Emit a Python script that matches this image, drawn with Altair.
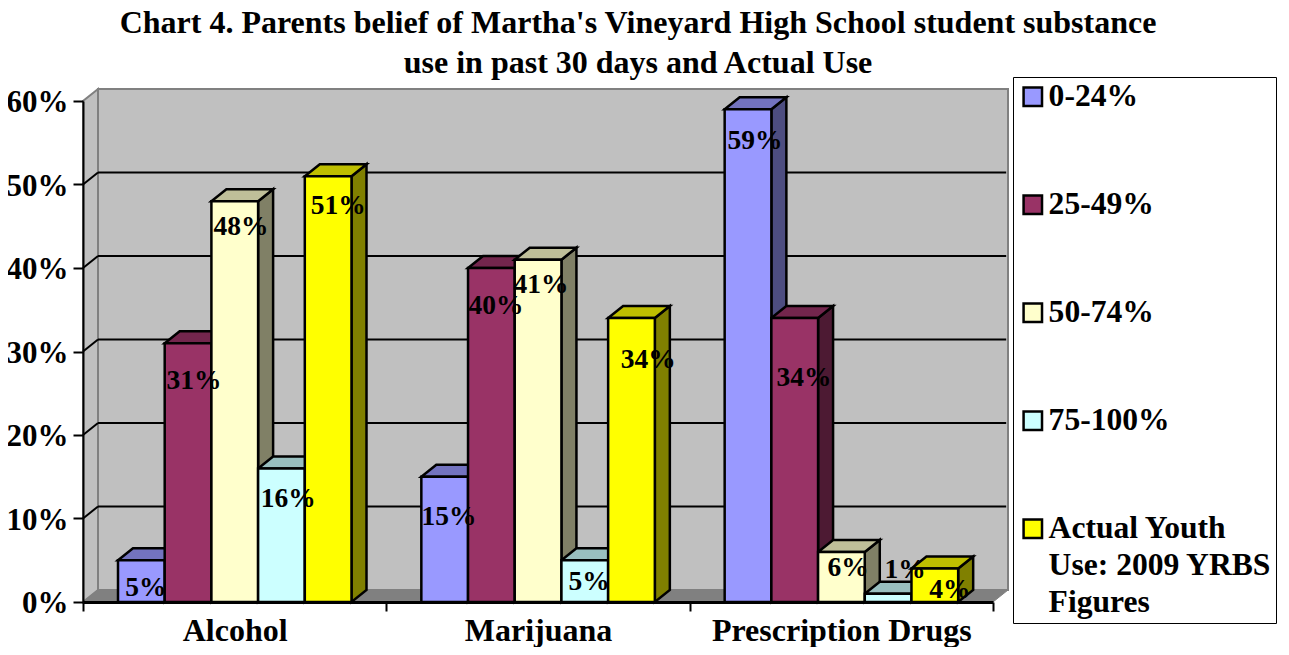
import altair as alt
import pandas as pd

categories = ["Alcohol", "Marijuana", "Prescription Drugs"]
series = ["0-24%", "25-49%", "50-74%", "75-100%", "Actual Youth Use: 2009 YRBS Figures"]
alcohol = [0.05, 0.31, 0.48, 0.16, 0.51]
marijuana = [0.15, 0.40, 0.41, 0.05, 0.34]
prescription = [0.59, 0.34, 0.06, 0.01, 0.04]
face_colors = ["#9999FF", "#993366", "#FFFFCC", "#CCFFFF", "#FFFF00"]
top_colors = ["#7373BF", "#73264D", "#BFBF99", "#99BFBF", "#BFBF00"]
side_colors = ["#4D4D80", "#4D1A33", "#808066", "#668080", "#808000"]
y_ticks = [0.0, 0.1, 0.2, 0.3, 0.4, 0.5, 0.6]
# where each value label sits (height on the y scale, sideways shift in fractions of a group)
label_heights = [[.017, .265, .449, .123, .474], [.102, .354, .380, .024, .290], [.552, .268, .041, .038, .014]]
label_shifts = [[.015, .020, .021, .022, .033], [.014, .015, .010, .014, .055], [.023, .031, .022, .056, .050]]

W, H = 910, 501
GX = 303.33
DX = 15 / GX          # depth of the 3-D projection, x units
DY = 12 / H * 0.6     # depth of the 3-D projection, y units
BAR = 46.7 / GX
GAP = 35 / GX

x_values = [0, 0.5, 1, 1.5, 2, 2.5, 3]
x_expr = ("datum.value == 0.5 ? '%s' : datum.value == 1.5 ? '%s' : datum.value == 2.5 ? '%s' : ''"
          % tuple(categories))
x_axis = alt.Axis(
    values=x_values, labelExpr=x_expr, tickSize=9, tickWidth=2, tickColor="black",
    tickOpacity={"condition": {"test": "datum.value % 1 == 0", "value": 1}, "value": 0},
    domainColor="black", domainWidth=3, labelFont="Liberation Serif", labelFontSize=32,
    labelFontWeight="bold", labelColor="black", labelPadding=4, labelLimit=400, labelOverlap=False,
    labelFlush=False, labelBound=False, grid=False, zindex=1, title=None)
y_axis = alt.Axis(
    values=y_ticks, format=".0%", tickSize=10, tickWidth=2, tickColor="black",
    domainColor="black", domainWidth=2, labelFont="Liberation Serif", labelFontSize=31,
    labelFontWeight="bold", labelColor="black", labelPadding=5, labelOffset=1.5, grid=False, zindex=1, title=None)

xs = alt.Scale(domain=[0, 3], nice=False, zero=False)
ys = alt.Scale(domain=[0, 0.6], nice=False, zero=False)
X = lambda f: alt.X(f, type="quantitative", scale=xs, axis=x_axis)
Y = lambda f: alt.Y(f, type="quantitative", scale=ys, axis=y_axis)
X2 = alt.X2
Y2 = alt.Y2

front, side, top, labels = [], [], [], []
for g, vals in enumerate([alcohol, marijuana, prescription]):
    for i, v in enumerate(vals):
        x0 = g + GAP + i * BAR
        x1 = x0 + BAR
        bid = f"{g}-{i}"
        front.append(dict(x0=x0, x1=x1, v=v, zero=0, series=series[i]))
        side.append(dict(id=bid, x=x1, y=v, y2=0, c=side_colors[i]))
        side.append(dict(id=bid, x=x1 + DX, y=v + DY, y2=DY, c=side_colors[i]))
        top.append(dict(id=bid, y=v, x=x0, x2=x1, c=top_colors[i]))
        top.append(dict(id=bid, y=v + DY, x=x0 + DX, x2=x1 + DX, c=top_colors[i]))
        labels.append(dict(x=(x0 + x1) / 2 + label_shifts[g][i], y=label_heights[g][i], t=f"{round(v * 100)}%"))

WALL = "#C0C0C0"
EDGE = "#808080"
STROKE = {"stroke": "black", "strokeWidth": 2.5}

back_wall = alt.Chart(pd.DataFrame([dict(x=DX, x2=3 + DX, y=DY, y2=0.6 + DY)])).mark_rect(
    fill=WALL, stroke=EDGE, strokeWidth=2).encode(X("x"), X2("x2"), Y("y"), Y2("y2"))
left_wall = alt.Chart(pd.DataFrame([dict(x=0, y=0, y2=0.6), dict(x=DX, y=DY, y2=0.6 + DY)])).mark_area(
    fill=WALL, stroke=EDGE, strokeWidth=2).encode(X("x"), Y("y"), Y2("y2"))
floor = alt.Chart(pd.DataFrame([dict(y=0, x=0, x2=3), dict(y=DY, x=DX, x2=3 + DX)])).mark_area(
    fill=EDGE, stroke=EDGE, strokeWidth=1, orient="horizontal").encode(Y("y"), X("x"), X2("x2"))

grid_back = alt.Chart(pd.DataFrame([dict(x=DX, x2=3 + DX - 0.006, y=t + DY) for t in y_ticks[1:-1]])).mark_rule(
    color="black", strokeWidth=2).encode(X("x"), X2("x2"), Y("y"))
grid_left = alt.Chart(pd.DataFrame(
    [dict(t=t, x=0, y=t) for t in y_ticks[1:-1]] + [dict(t=t, x=DX, y=t + DY) for t in y_ticks[1:-1]]
)).mark_line(color="black", strokeWidth=2).encode(X("x"), Y("y"), detail="t:N")

side_l = alt.Chart(pd.DataFrame(side)).mark_area(**STROKE).encode(
    X("x"), Y("y"), Y2("y2"), detail="id:N", color=alt.Color("c:N", scale=None))
top_l = alt.Chart(pd.DataFrame(top)).mark_area(orient="horizontal", **STROKE).encode(
    Y("y"), X("x"), X2("x2"), detail="id:N", color=alt.Color("c:N", scale=None))

legend = alt.Legend(
    title=None, orient="none", legendX=930, legendY=-24,
    symbolType="square", symbolSize=340, symbolStrokeColor="black", symbolStrokeWidth=2.5,
    labelFont="Liberation Serif", labelFontSize=31.6, labelFontWeight="bold", labelColor="black",
    labelLimit=400, labelOffset=0, rowPadding=75, padding=4, strokeColor="black",
    fillColor="white", symbolOpacity=1,
    labelExpr="datum.label == 'Actual Youth Use: 2009 YRBS Figures' ? ['Actual Youth', 'Use: 2009 YRBS', 'Figures'] : datum.label",
)
front_l = alt.Chart(pd.DataFrame(front)).mark_rect(**STROKE).encode(
    X("x0"), X2("x1"), Y("v"), Y2("zero"),
    color=alt.Color("series:N", sort=series, scale=alt.Scale(domain=series, range=face_colors), legend=legend),
)

text_l = alt.Chart(pd.DataFrame(labels)).mark_text(
    font="Liberation Serif", fontWeight="bold", fontSize=27.5, color="black", baseline="middle", align="center"
).encode(X("x"), Y("y"), text="t:N")

chart = alt.layer(
    back_wall, left_wall, floor, grid_back, grid_left, side_l, top_l, front_l, text_l
).properties(
    width=W, height=H,
    title=alt.TitleParams(
        text=["Chart 4. Parents belief of Martha's Vineyard High School student substance",
              "use in past 30 days and Actual Use"],
        font="Liberation Serif", fontSize=32, fontWeight="bold", color="black",
        anchor="middle", dx=100, lineHeight=40, offset=-3),
    autosize=alt.AutoSizeParams(type="none"),
    padding={"left": 75, "top": 93, "right": 288, "bottom": 45},
    config=alt.Config(view=alt.ViewConfig(stroke=None), style={"guide-label": {"lineHeight": 37}}),
)

chart.save("out.html", embed_options={"renderer": "svg", "actions": False})
